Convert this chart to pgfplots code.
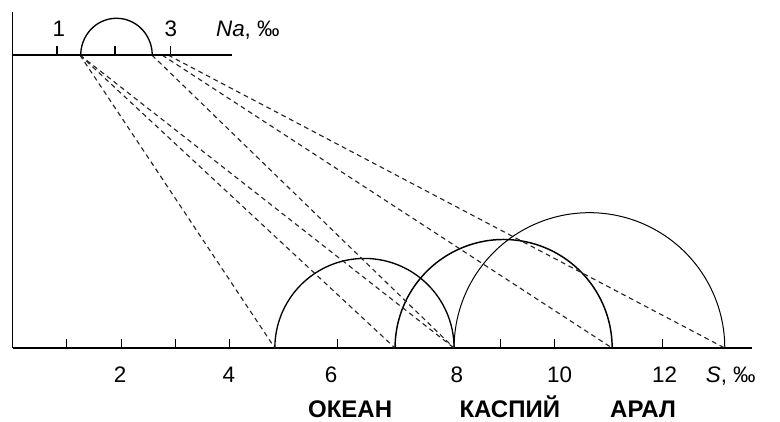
\documentclass[border=0pt]{standalone}
\usepackage{pgfplots}
\pgfplotsset{compat=1.18}
\usepackage{fontspec}
\setmainfont{Liberation Sans}
\newcommand\fs{\fontsize{16.8}{19}\selectfont}
\newcommand\fb{\fontsize{18}{20}\selectfont\bfseries}
\begin{document}
\begin{tikzpicture}
\begin{axis}[
  x=40.6pt, y=40.6pt,
  xmin=0, xmax=13.65, ymin=0, ymax=6.2,
  axis lines=left,
  axis line style={-},
  x axis line style={line width=1.2pt},
  y axis line style={line width=0.7pt},
  clip=false,
  ytick=\empty,
  xtick={1,2,3,4,6,9,10,12},
  xticklabels={,,,,,,,},
  tick align=inside,
  major tick length=6.75pt,
  tick style={line width=0.8pt, black},
  extra x ticks={1.98,3.99,5.88,8.2,10.1,12.04},
  extra x tick labels={2,4,6,8,10,12},
  extra x tick style={major tick length=0pt},
  xticklabel style={font=\fs, anchor=base, yshift=-25.8pt},
  dl/.style={black!85, line width=0.85pt, dash pattern=on 3.6pt off 2.8pt},
]
% semicircles on the S axis (centre, radius)
\addplot[black, line width=1pt, domain=0:180, samples=91] ({6.495+1.655*cos(x)}, {1.655*sin(x)});
\addplot[black, line width=1.1pt, domain=0:180, samples=91] ({9.065+2.005*cos(x)}, {2.005*sin(x)});
\addplot[black, line width=0.75pt, domain=0:180, samples=91] ({10.65+2.50*cos(x)}, {2.50*sin(x)});
% Na axis semicircle
\addplot[black, line width=1pt, domain=0:180, samples=61] ({1.915+0.66*cos(x)}, {5.41+0.68*sin(x)});
% dashed connecting lines
\addplot[dl] coordinates {(1.241,5.41) (4.84,0)};
\addplot[dl] coordinates {(1.241,5.41) (7.06,0)};
\addplot[dl] coordinates {(1.241,5.41) (8.15,0)};
\addplot[dl] coordinates {(2.57,5.41) (8.15,0)};
\addplot[dl] coordinates {(2.76,5.41) (11.07,0)};
\addplot[dl] coordinates {(2.87,5.41) (13.15,0)};
% Na axis
\draw[line width=1.2pt] (axis cs:0,5.41) -- (axis cs:4.05,5.41);
\draw[line width=0.8pt] (axis cs:0.816,5.41) -- ++(0,6.75pt);
\draw[line width=1.3pt] (axis cs:1.887,5.41) -- ++(0,6.75pt);
\draw[line width=0.8pt] (axis cs:2.92,5.41) -- ++(0,6.75pt);
% texts
\node[font=\fs, anchor=base] at (axis cs:0.85,5.75) {1};
\node[font=\fs, anchor=base] at (axis cs:2.92,5.75) {3};
\node[font=\fs, anchor=base west, inner sep=0pt] at (axis cs:3.75,5.75) {\textit{Na}, ‰};
\node[font=\fs, anchor=base] at (axis cs:13.26,-0.634) {\textit{S}, ‰};
\node[font=\fb, anchor=base] at (axis cs:6.23,-1.28) {ОКЕАН};
\node[font=\fb, anchor=base] at (axis cs:9.18,-1.28) {КАСПИЙ};
\node[font=\fb, anchor=base] at (axis cs:11.64,-1.28) {АРАЛ};
\coordinate (BL) at (axis cs:-0.2364,-1.348);
\coordinate (TR) at (axis cs:14.17,6.428);
\end{axis}
\pgfresetboundingbox
\path[use as bounding box] (BL) rectangle (TR);
\end{tikzpicture}
\end{document}
